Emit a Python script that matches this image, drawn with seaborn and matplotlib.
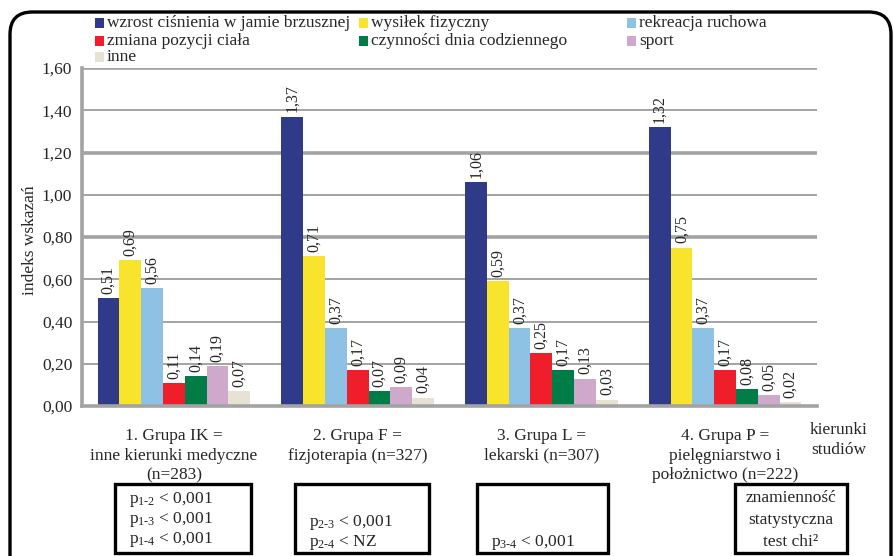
import numpy as np
import pandas as pd
import matplotlib
matplotlib.use("Agg")
import matplotlib.pyplot as plt
from matplotlib.patches import Rectangle, FancyBboxPatch
import seaborn as sns

# --- data -------------------------------------------------------------
groups = [
    "1. Grupa IK =\ninne kierunki medyczne\n(n=283)",
    "2. Grupa F =\nfizjoterapia (n=327)",
    "3. Grupa L =\nlekarski (n=307)",
    "4. Grupa P =\npielęgniarstwo i\npołożnictwo (n=222)",
]
factors = [
    "wzrost ciśnienia w jamie brzusznej",
    "wysiłek fizyczny",
    "rekreacja ruchowa",
    "zmiana pozycji ciała",
    "czynności dnia codziennego",
    "sport",
    "inne",
]
wzrost_cisnienia = [0.51, 1.37, 1.06, 1.32]
wysilek_fizyczny = [0.69, 0.71, 0.59, 0.75]
rekreacja_ruchowa = [0.56, 0.37, 0.37, 0.37]
zmiana_pozycji = [0.11, 0.17, 0.25, 0.17]
czynnosci_dnia = [0.14, 0.07, 0.17, 0.08]
sport = [0.19, 0.09, 0.13, 0.05]
inne = [0.07, 0.04, 0.03, 0.02]
y_ticks = [0.0, 0.2, 0.4, 0.6, 0.8, 1.0, 1.2, 1.4, 1.6]

box_lines = [
    [r"p$_\mathrm{1\text{-}2}$ < 0,001", r"p$_\mathrm{1\text{-}3}$ < 0,001", r"p$_\mathrm{1\text{-}4}$ < 0,001"],
    [r"p$_\mathrm{2\text{-}3}$ < 0,001", r"p$_\mathrm{2\text{-}4}$ < NZ"],
    [r"p$_\mathrm{3\text{-}4}$ < 0,001"],
    ["znamienność", "statystyczna", "test chi²"],
]

colors = ["#2F3A88", "#F8E42C", "#8DC2E5", "#EE1F2B", "#007D46", "#CFA9CC", "#E7E2D2"]

series = [wzrost_cisnienia, wysilek_fizyczny, rekreacja_ruchowa, zmiana_pozycji,
          czynnosci_dnia, sport, inne]
df = pd.DataFrame(
    [(g, f, vals[i]) for f, vals in zip(factors, series) for i, g in enumerate(groups)],
    columns=["grupa", "czynnik", "indeks"],
)

# --- style --------------------------------------------------------------
sns.set_style("white")
plt.rcParams["font.family"] = ["Liberation Serif", "DejaVu Serif"]
plt.rcParams["mathtext.fontset"] = "custom"
plt.rcParams["mathtext.rm"] = "Liberation Serif"
plt.rcParams["mathtext.it"] = "Liberation Serif:italic"

W, H = 895, 556
fig = plt.figure(figsize=(W / 100, H / 100), dpi=100)
fx = lambda x: x / W
fy = lambda y: 1 - y / H
FS = 12.5

ax = fig.add_axes([fx(82), fy(406), fx(817) - fx(82), fy(68) - fy(406)])

sns.barplot(data=df, x="grupa", y="indeks", hue="czynnik", hue_order=factors,
            palette=colors, width=0.83, gap=0, saturation=1, errorbar=None,
            linewidth=0, legend=False, ax=ax)

for cont in ax.containers:
    ax.bar_label(cont, labels=[f"{b.get_height():.2f}".replace(".", ",") for b in cont],
                 rotation=90, padding=3, fontsize=11.5)

ax.set_ylim(0, 1.6)
ax.set_xlim(-0.5, 3.5)
ax.set_yticks(y_ticks)
ax.set_yticklabels([f"{t:.2f}".replace(".", ",") for t in y_ticks], fontsize=FS)
ax.set_xticks(range(len(groups)))
ax.set_xticklabels(groups, fontsize=FS, linespacing=1.3)
ax.tick_params(axis="x", length=0, pad=16)
ax.tick_params(axis="y", length=0, pad=7)
ax.set_xlabel("")
ax.set_ylabel("")

# gridlines
ax.set_axisbelow(True)
for t in y_ticks[1:]:
    lw = 2.6 if t in (0.8, 1.2, 1.6) else 1.4
    ax.axhline(t, color="#A3A3A3", lw=lw, zorder=0)
for s in ["top", "right"]:
    ax.spines[s].set_visible(False)
for s in ["left", "bottom"]:
    ax.spines[s].set_color("#A3A3A3")
    ax.spines[s].set_linewidth(2.6)

fig.text(fx(30), fy(240), "indeks wskazań", rotation=90, ha="center", va="center", fontsize=FS)
fig.text(fx(839), fy(430), "kierunki", ha="center", va="center", fontsize=FS)
fig.text(fx(839), fy(450), "studiów", ha="center", va="center", fontsize=FS)

# legend laid out in three columns
leg_cols = [95, 359, 627]
leg_rows = [23, 41, 57]
leg_pos = [(0, 0), (1, 0), (2, 0), (0, 1), (1, 1), (2, 1), (0, 2)]
for (c, r), name, col in zip(leg_pos, factors, colors):
    x, y = leg_cols[c], leg_rows[r]
    fig.add_artist(Rectangle((fx(x), fy(y + 4.5)), fx(9), 9 / H, transform=fig.transFigure,
                             facecolor=col, edgecolor="none"))
    fig.text(fx(x + 12), fy(y), name, ha="left", va="center", fontsize=FS)

# significance boxes
boxes = [(115, 251), (295, 429), (477, 608), (735, 847)]
line_y = [[498, 518, 538], [521, 541], [541], [497, 519, 541]]
for (x0, x1), lines, ys, i in zip(boxes, box_lines, line_y, range(4)):
    fig.add_artist(Rectangle((fx(x0), fy(553)), fx(x1 - x0), (553 - 484) / H,
                             transform=fig.transFigure, facecolor="white",
                             edgecolor="black", lw=2.4))
    for txt, y in zip(lines, ys):
        if i < 3:
            fig.text(fx(x0 + 14), fy(y + 5), txt, ha="left", va="baseline", fontsize=FS)
        else:
            fig.text(fx((x0 + x1) / 2), fy(y + 5), txt, ha="center", va="baseline",
                     fontsize=FS)

# outer rounded frame
fig.add_artist(FancyBboxPatch((fx(10), fy(600)), fx(881), (600 - 12) / H,
                              boxstyle="round,pad=0,rounding_size=0.025",
                              transform=fig.transFigure, facecolor="none",
                              edgecolor="black", lw=2.4, mutation_aspect=W / H))

fig.savefig("out.png", dpi=100)
